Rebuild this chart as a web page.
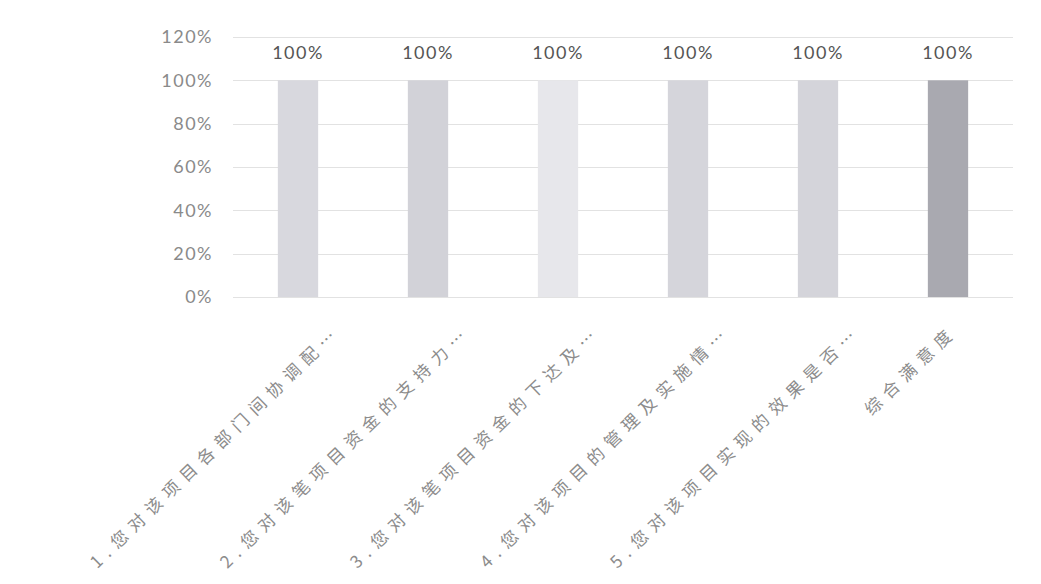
<!DOCTYPE html>
<html>
<head>
<meta charset="utf-8">
<script src="https://cdn.jsdelivr.net/npm/d3@7"></script>
<style>
  body { margin: 0; background: #fff; }
  .tick-label { font-family: Lato, "Open Sans", sans-serif; font-size: 18px; fill: #8a8a8a; letter-spacing: 1.5px; }
  .value-label { font-family: Lato, "Open Sans", sans-serif; font-size: 18px; fill: #555; letter-spacing: 1.5px; }
  .cat-label { font-family: "Noto Sans CJK SC", sans-serif; font-size: 17px; fill: #8c8c8c; letter-spacing: 7px; }
</style>
</head>
<body>
<div id="chart"></div>
<script>
const width = 1041;
const height = 584;

const categories = [
  "1.您对该项目各部门间协调配…",
  "2.您对该笔项目资金的支持力…",
  "3.您对该笔项目资金的下达及…",
  "4.您对该项目的管理及实施情…",
  "5.您对该项目实现的效果是否…",
  "综合满意度"
];
const values = [1, 1, 1, 1, 1, 1];
const barColors = ["#d8d8de", "#d2d2d8", "#e7e7eb", "#d5d5db", "#d4d4da", "#a9a9b0"];
const yTicks = [0, 0.2, 0.4, 0.6, 0.8, 1.0, 1.2];

const margin = { top: 37, right: 28, bottom: 287, left: 233 };

const svg = d3
  .select("#chart")
  .append("svg")
  .attr("width", width)
  .attr("height", height);

const x = d3
  .scaleBand()
  .domain(categories)
  .range([margin.left, width - margin.right])
  .paddingInner(0.69)
  .paddingOuter(0.345);

const y = d3
  .scaleLinear()
  .domain([0, 1.2])
  .range([height - margin.bottom, margin.top]);

const pct = d3.format(".0%");

// gridlines
svg
  .append("g")
  .selectAll("line")
  .data(yTicks)
  .enter()
  .append("line")
  .attr("x1", margin.left)
  .attr("x2", width - margin.right)
  .attr("y1", (d) => Math.round(y(d)) + 0.5)
  .attr("y2", (d) => Math.round(y(d)) + 0.5)
  .attr("stroke", "#e2e2e2")
  .attr("stroke-width", 1);

// y tick labels
svg
  .append("g")
  .selectAll("text")
  .data(yTicks)
  .enter()
  .append("text")
  .attr("class", "tick-label")
  .attr("x", margin.left - 20)
  .attr("y", (d) => y(d))
  .attr("dy", "0.35em")
  .attr("text-anchor", "end")
  .text((d) => pct(d));

// bars
svg
  .append("g")
  .selectAll("rect")
  .data(values)
  .enter()
  .append("rect")
  .attr("x", (d, i) => x(categories[i]))
  .attr("y", (d) => y(d))
  .attr("width", x.bandwidth())
  .attr("height", (d) => y(0) - y(d))
  .attr("fill", (d, i) => barColors[i]);

// value labels
svg
  .append("g")
  .selectAll("text")
  .data(values)
  .enter()
  .append("text")
  .attr("class", "value-label")
  .attr("x", (d, i) => x(categories[i]) + x.bandwidth() / 2)
  .attr("y", (d) => y(d) - 21)
  .attr("text-anchor", "middle")
  .text((d) => pct(d));

// rotated category labels
svg
  .append("g")
  .selectAll("text")
  .data(categories)
  .enter()
  .append("text")
  .attr("class", "cat-label")
  .attr("text-anchor", "end")
  .attr("transform", (d) => {
    const shift = d.endsWith("…") ? 44 : 10;
    const cx = x(d) + x.bandwidth() / 2 + shift;
    return `translate(${cx}, ${y(0) + 36}) rotate(-44)`;
  })
  .text((d) => d);
</script>
</body>
</html>
